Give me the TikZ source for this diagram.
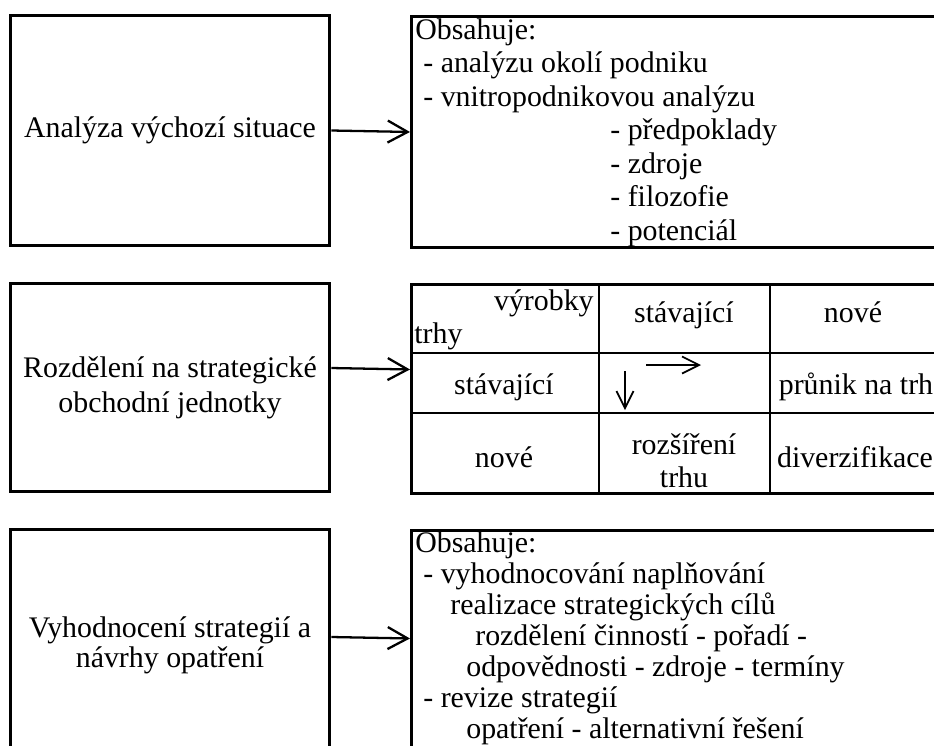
\documentclass[tikz,border=0pt]{standalone}
\usepackage{fontspec}
\setmainfont{Liberation Serif}
\usetikzlibrary{arrows.meta}

\begin{document}
\begin{tikzpicture}[x=0.02cm,y=-0.02cm,>={Straight Barb[length=0.4cm,width=0.44cm]},font=\fontsize{17}{20}\selectfont]
\tikzstyle{box}=[draw,line width=1.7pt,inner sep=0pt,align=center]
\tikzstyle{cell}=[anchor=base,inner sep=0pt,align=center]
\tikzstyle{txt}=[anchor=base west,inner sep=0pt]
\tikzstyle{conn}=[->,line width=1.3pt]
\tikzstyle{small}=[-{Straight Barb[length=0.34cm,width=0.34cm]},line width=1pt]
\useasboundingbox (0,0) rectangle (934,745);
\clip (0,0) rectangle (934,745);
% left column
\node[box,minimum width=6.4cm,minimum height=4.62cm] (a1) at (170,130.5) {Analýza výchozí situace};
\node[box,minimum width=6.4cm,minimum height=4.18cm,font=\fontsize{17}{19.9}\selectfont] (a2) at (170,387.5) {Rozdělení na strategické\\ obchodní jednotky};
\node[box,minimum width=6.4cm,minimum height=4.64cm,font=\fontsize{17}{17}\selectfont] (a3) at (170,645) {Vyhodnocení strategií a\\ návrhy opatření};
% right column
\node[box,anchor=north west,minimum width=11cm,minimum height=4.62cm] (b1) at (410,15) {};
\node[box,anchor=north west,minimum width=11cm,minimum height=4.18cm] (b2) at (410,283) {};
\node[box,anchor=north west,minimum width=11cm,minimum height=4.64cm] (b3) at (410,529) {};
\draw[conn] (a1.east) -- (b1.west);
\draw[conn] ([yshift=0.39cm]a2.east) -- ([yshift=0.39cm]b2.west);
\draw[conn] ([yshift=0.16cm]a3.east) -- ([yshift=0.16cm]b3.west);
% contents of the first box
\foreach \x/\y/\lbl [count=\i] in {415/39/Obsahuje:, 423/72.5/- analýzu okolí podniku, 423/106/- vnitropodnikovou analýzu, 610/139.5/- předpoklady, 610/173/- zdroje, 610/206.5/- filozofie, 610/240/- potenciál}
  \node[txt] (o\i) at (\x,\y) {\lbl};
% table
\foreach \x in {599,770} \draw[line width=1.3pt] (\x,283) -- (\x,492);
\foreach \y in {353,413} \draw[line width=1.3pt] (410,\y) -- (940,\y);
\node[cell,anchor=base east] (vy) at (594,310) {výrobky};
\node[cell,anchor=base west] (tr) at (414,343) {trhy};
\node[cell] (c12) at (684,322) {stávající};
\node[cell] (c13) at (853,322) {nové};
\node[cell] (c21) at (504,394) {stávající};
\node[cell] (c23) at (856,394) {průnik na trh};
\node[cell] (c31) at (504,467) {nové};
\node[cell] (c32a) at (684,454) {rozšíření};
\node[cell] (c32b) at (684,487) {trhu};
\node[cell] (c33) at (855,467) {diverzifikace};
\coordinate (p0) at (646,365);
\coordinate (p1) at (701,365);
\coordinate (q0) at (625,371);
\coordinate (q1) at (625,410);
\draw[small] (p0) -- (p1);
\draw[small] (q0) -- (q1);
% contents of the third box
\foreach \x/\y/\lbl [count=\i] in {415/552/Obsahuje:, 423/583/- vyhodnocování naplňování, 450/614/realizace strategických cílů, 475/645/rozdělení činností - pořadí -, 466/676/odpovědnosti - zdroje - termíny, 423/707/- revize strategií, 466/738/opatření - alternativní řešení}
  \node[txt] (r\i) at (\x,\y) {\lbl};
\end{tikzpicture}
\end{document}
